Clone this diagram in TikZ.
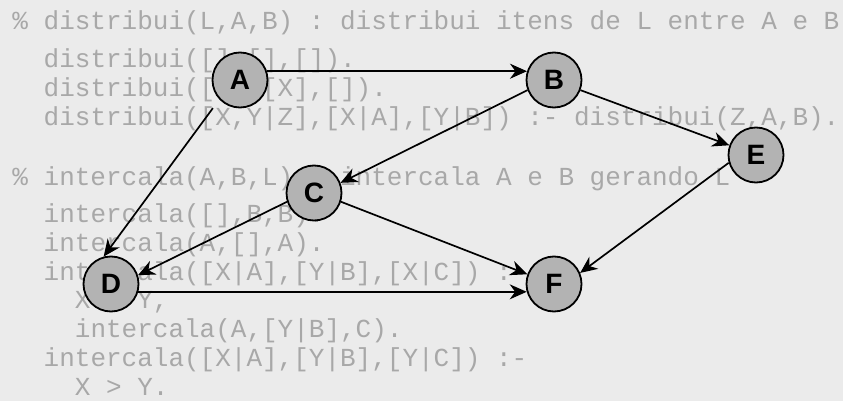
\documentclass[tikz,border=0pt]{standalone}
\usepackage{fontspec}
\setmainfont{Liberation Sans}
\newfontfamily\codefont{Liberation Mono}
\usetikzlibrary{arrows.meta}
\definecolor{bgcol}{HTML}{EBEBEB}
\definecolor{codegray}{HTML}{A8A8A8}
\definecolor{nodefill}{HTML}{B3B3B3}
\begin{document}
\begin{tikzpicture}[x=1pt,y=-1pt,
  code/.style={anchor=base west,inner sep=0pt,text=codegray,font=\codefont\fontsize{26}{28}\selectfont},
  vertex/.style={circle,draw=black,line width=1.8pt,fill=nodefill,minimum size=55pt,inner sep=0pt,font=\fontsize{28}{30}\selectfont\bfseries},
  edge/.style={line width=1.7pt,-{Stealth[length=17pt,width=15pt,inset=5.5pt]}}]
\fill[bgcol] (0,0) rectangle (843,401);
\useasboundingbox (0,0) rectangle (843,401);
% code text
\node[code] (t1) at (12.3,30) {\% distribui(L,A,B) : distribui itens de L entre A e B};
\node[code] (t2) at (43.5,68) {distribui([],[],[]).};
\node[code] (t3) at (43.5,96.8) {distribui([X],[X],[]).};
\node[code] (t4) at (43.5,125.6) {distribui([X,Y|Z],[X|A],[Y|B]) :- distribui(Z,A,B).};
\node[code] (t5) at (12.3,185) {\% intercala(A,B,L) : intercala A e B gerando L};
\node[code] (t6) at (43.5,222.5) {intercala([],B,B).};
\node[code] (t7) at (43.5,251.3) {intercala(A,[],A).};
\node[code] (t8) at (43.5,280.1) {intercala([X|A],[Y|B],[X|C]) :-};
\node[code] (t9) at (74.7,308.9) {X < Y,};
\node[code] (t10) at (74.7,337.7) {intercala(A,[Y|B],C).};
\node[code] (t11) at (43.5,366.5) {intercala([X|A],[Y|B],[Y|C]) :-};
\node[code] (t12) at (74.7,395.3) {X > Y.};
% graph nodes
\node[vertex] (A) at (240,80) {A};
\node[vertex] (B) at (554,80) {B};
\node[vertex] (C) at (314,193) {C};
\node[vertex] (D) at (111,284) {D};
\node[vertex] (E) at (756,155) {E};
\node[vertex] (F) at (554,284) {F};
% edges
\draw[edge] (A.18) -- (B.162);
\draw[edge] ([shift={(-7,8)}]A.225) -- (D.105);
\draw[edge] (B.201) -- (C.21);
\draw[edge] (B.-21) -- (E.160);
\draw[edge] (C.198) -- (D.18);
\draw[edge] (C.-18) -- (F.160);
\draw[edge] (D.-16) -- (F.196);
\draw[edge] (E.196) -- (F.23);
\end{tikzpicture}
\end{document}
